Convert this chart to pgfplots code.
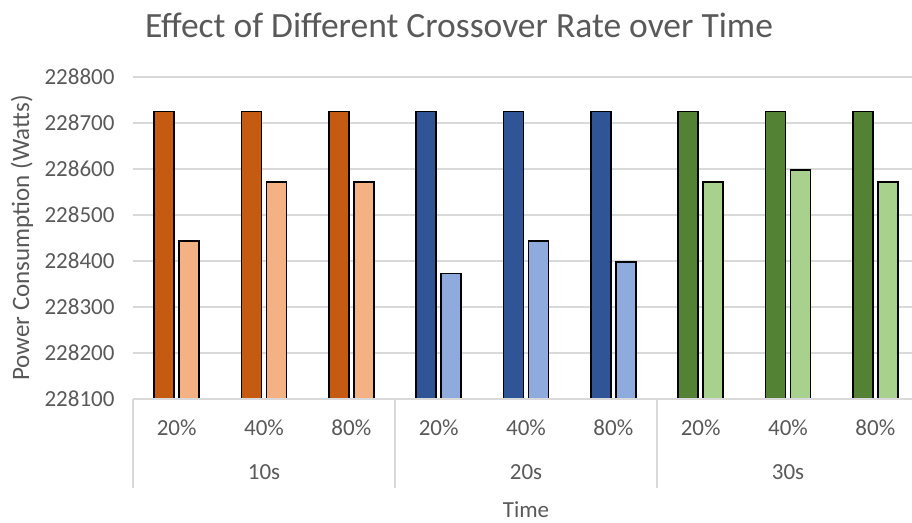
\documentclass[border=0pt]{standalone}
\usepackage{fontspec}
\setmainfont{Carlito}
\usepackage{pgfplots}
\pgfplotsset{compat=1.18}
\definecolor{txt}{HTML}{595959}
\definecolor{gridc}{HTML}{D9D9D9}
\definecolor{orD}{HTML}{C55A11}
\definecolor{orL}{HTML}{F4B183}
\definecolor{blD}{HTML}{2F5597}
\definecolor{blL}{HTML}{8FAADC}
\definecolor{grD}{HTML}{548235}
\definecolor{grL}{HTML}{A9D18E}
\begin{document}
\begin{tikzpicture}
\path[use as bounding box] (0,0) rectangle (912pt,522pt);
\begin{axis}[
  at={(133pt,123pt)}, anchor=south west,
  scale only axis, width=779pt, height=322pt,
  % bars are drawn from 0: offset values by 228000 so they start below the axis floor
  y filter/.expression={y-228000},
  xmin=-0.5, xmax=8.42, ymin=100, ymax=800,
  ytick={100,200,...,800},
  yticklabels={228100,228200,228300,228400,228500,228600,228700,228800},
  yticklabel style={xshift=-15pt},
  xticklabel style={yshift=-17pt},
  xtick={0,...,8}, xticklabels={20\%,40\%,80\%,20\%,40\%,80\%,20\%,40\%,80\%},
  axis line style={draw=none}, major tick length=0pt,
  ymajorgrids, grid style={gridc, line width=1.2pt},
  ticklabel style={font=\fontsize{23}{27}\selectfont, text=txt},
  clip mode=individual,
  ybar, bar width=20pt,
]
\addplot[draw=black, line width=1.5pt, fill=orD, bar shift=-12.5pt] coordinates {(0,228725) (1,228725) (2,228725)};
\addplot[draw=black, line width=1.5pt, fill=orL, bar shift=12.5pt] coordinates {(0,228444) (1,228572) (2,228572)};
\addplot[draw=black, line width=1.5pt, fill=blD, bar shift=-12.5pt] coordinates {(3,228725) (4,228725) (5,228725)};
\addplot[draw=black, line width=1.5pt, fill=blL, bar shift=12.5pt] coordinates {(3,228373) (4,228444) (5,228398)};
\addplot[draw=black, line width=1.5pt, fill=grD, bar shift=-12.5pt] coordinates {(6,228725) (7,228725) (8,228725)};
\addplot[draw=black, line width=1.5pt, fill=grL, bar shift=12.5pt] coordinates {(6,228572) (7,228598) (8,228572)};
\draw[gridc, line width=1.2pt] (axis cs:-0.5,100) -- (axis cs:8.42,100);
\draw[gridc, line width=1.2pt] (axis cs:-0.5,100) -- ++(0pt,-89pt);
\draw[gridc, line width=1.2pt] (axis cs:2.5,100) -- ++(0pt,-89pt);
\draw[gridc, line width=1.2pt] (axis cs:5.5,100) -- ++(0pt,-89pt);
\node[text=txt, font=\fontsize{23}{27}\selectfont, yshift=-73pt] at (axis cs:1,100) {10s};
\node[text=txt, font=\fontsize{23}{27}\selectfont, yshift=-73pt] at (axis cs:4,100) {20s};
\node[text=txt, font=\fontsize{23}{27}\selectfont, yshift=-73pt] at (axis cs:7,100) {30s};
\end{axis}
\node[text=txt, font=\fontsize{35.5}{42}\selectfont] at (459pt,497pt) {Effect of Different Crossover Rate over Time};
\node[text=txt, font=\fontsize{25}{30}\selectfont, rotate=90] at (22pt,284pt) {Power Consumption (Watts)};
\node[text=txt, font=\fontsize{23}{28}\selectfont, inner sep=0pt, anchor=base] at (526pt,5pt) {Time};
\end{tikzpicture}
\end{document}
